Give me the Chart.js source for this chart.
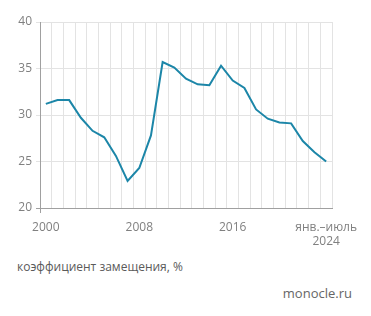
<!DOCTYPE html>
<html>
<head>
<meta charset="utf-8">
<script src="https://cdn.jsdelivr.net/npm/chart.js@4"></script>
<style>
  html, body { margin: 0; padding: 0; background: #fff; }
  body { width: 371px; height: 316px; position: relative; overflow: hidden; font-family: "Open Sans", sans-serif; }
  #wrap { position: absolute; left: 0; top: 0; width: 371px; height: 250px; }
  .note { position: absolute; left: 17px; top: 258px; font-size: 12px; color: #5a5a5a; }
  .src { position: absolute; right: 19px; top: 284px; font-size: 13px; color: #666; }
</style>
</head>
<body>
<div id="wrap"><canvas id="chart"></canvas></div>
<div class="note">коэффициент замещения, %</div>
<div class="src">monocle.ru</div>
<script>
// --- DATA ---
var years = ['2000', '2001', '2002', '2003', '2004', '2005', '2006', '2007', '2008', '2009',
             '2010', '2011', '2012', '2013', '2014', '2015', '2016', '2017', '2018', '2019',
             '2020', '2021', '2022', '2023', '2024'];
var ratio = [31.2, 31.6, 31.6, 29.7, 28.3, 27.6, 25.6, 22.9, 24.3, 27.8,
             35.7, 35.1, 33.9, 33.3, 33.2, 35.3, 33.7, 32.9, 30.6, 29.6,
             29.2, 29.1, 27.2, 26.0, 25.0];
// only these categories get a visible label; the last one is two lines
var shownLabels = { 0: '2000', 8: '2008', 16: '2016', 24: ['янв.–июль', '2024'] };
var yTicks = [20, 25, 30, 35, 40];

var tickGrey = '#808080';
var gridGrey = '#e3e3e3';
var axisGrey = '#a0a0a0';

var ctx = document.getElementById('chart').getContext('2d');

new Chart(ctx, {
  type: 'line',
  data: {
    labels: years,
    datasets: [{
      data: ratio,
      borderColor: '#1c86a8',
      borderWidth: 2,
      pointRadius: 0,
      tension: 0,
      fill: false
    }]
  },
  options: {
    responsive: true,
    maintainAspectRatio: false,
    animation: false,
    layout: { padding: { left: 0, top: 22, right: 39, bottom: 0 } },
    plugins: { legend: { display: false }, tooltip: { enabled: false } },
    scales: {
      x: {
        offset: true,
        border: { display: true, color: axisGrey, width: 1 },
        grid: {
          offset: true,
          color: gridGrey,
          drawTicks: true,
          tickLength: 5,
          // only the first tick mark (continuation of the y axis) is visible
          tickColor: function (c) { return c.index === 0 ? axisGrey : 'rgba(0,0,0,0)'; }
        },
        ticks: {
          autoSkip: false,
          maxRotation: 0,
          padding: 7,
          color: tickGrey,
          font: { family: 'Open Sans', size: 12 },
          callback: function (value, index) {
            return shownLabels[index] !== undefined ? shownLabels[index] : '';
          }
        },
        afterFit: function (axis) { axis.height = 42; }
      },
      y: {
        min: 20,
        max: 40,
        afterBuildTicks: function (axis) {
          axis.ticks = yTicks.map(function (v) { return { value: v }; });
        },
        border: { display: true, color: axisGrey, width: 1 },
        grid: {
          color: function (c) { return c.tick && c.tick.value === 20 ? axisGrey : gridGrey; },
          tickColor: function (c) { return c.tick && c.tick.value === 20 ? axisGrey : gridGrey; },
          tickLength: 4
        },
        ticks: {
          padding: 4,
          color: tickGrey,
          font: { family: 'Open Sans', size: 12 }
        },
        afterFit: function (axis) { axis.width = 40; }
      }
    }
  }
});
</script>
</body>
</html>
